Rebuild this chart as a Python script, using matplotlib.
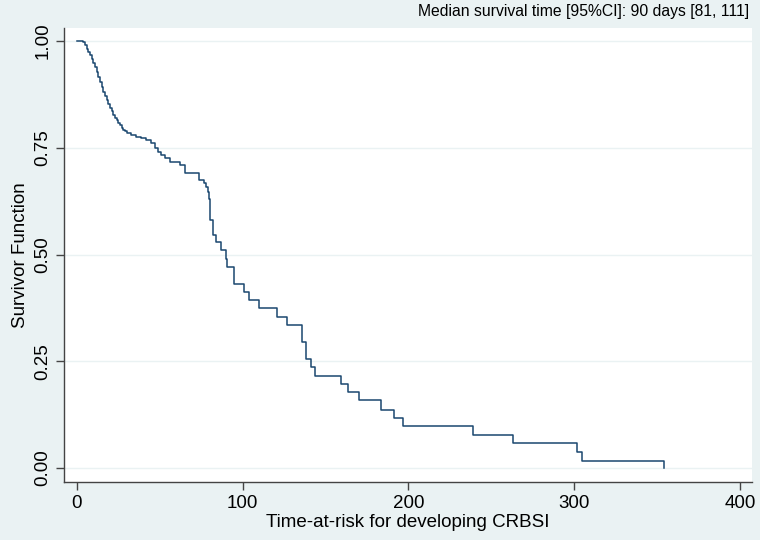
import matplotlib
matplotlib.use("Agg")
import matplotlib.pyplot as plt

# Kaplan-Meier estimate (time in days, survivor function)
km_time = [0, 4, 5, 6, 7, 8, 9, 10, 11, 12, 13, 14, 15, 16, 17, 18, 19, 20,
           21, 22, 23, 24, 25, 26, 27, 28, 29, 30, 33, 36, 39, 42, 45, 47,
           49, 51, 53, 56, 62, 65, 74, 77, 78, 79, 80, 80.5, 82, 84, 87, 90,
           90.5, 95, 101, 104, 110, 121, 127, 136, 138, 141, 143.5, 159.5,
           163.5, 170.5, 183.5, 191.5, 196.5, 239, 263, 301.5, 304.5, 354]
km_surv = [1.0, 0.997, 0.99, 0.982, 0.974, 0.966, 0.958, 0.949, 0.94, 0.928,
           0.916, 0.904, 0.892, 0.88, 0.871, 0.862, 0.853, 0.844, 0.835,
           0.827, 0.82, 0.814, 0.808, 0.802, 0.797, 0.792, 0.788, 0.784,
           0.779, 0.775, 0.772, 0.768, 0.76, 0.749, 0.741, 0.733, 0.725,
           0.717, 0.71, 0.69, 0.674, 0.667, 0.657, 0.647, 0.63, 0.58, 0.546,
           0.53, 0.51, 0.49, 0.471, 0.432, 0.413, 0.393, 0.374, 0.354, 0.335,
           0.296, 0.255, 0.236, 0.215, 0.197, 0.179, 0.16, 0.137, 0.118,
           0.098, 0.077, 0.058, 0.038, 0.017, 0.0]

x_ticks = [0, 100, 200, 300, 400]
y_ticks = [0.0, 0.25, 0.5, 0.75, 1.0]
y_tick_labels = ["0.00", "0.25", "0.50", "0.75", "1.00"]
note = "Median survival time [95%CI]: 90 days [81, 111]"

plt.rcParams["font.family"] = ["Liberation Sans", "DejaVu Sans"]

bg = "#EAF2F3"
fig = plt.figure(figsize=(7.6, 5.4), dpi=100, facecolor=bg)
ax = fig.add_axes([0.084, 0.107, 0.905, 0.841])
ax.set_facecolor("white")

ax.step(km_time, km_surv, where="post", color="#1A476F", lw=1.1)

ax.set_xlim(-7.8, 407)
ax.set_ylim(-0.033, 1.030)

ax.set_xticks(x_ticks)
ax.set_yticks(y_ticks)
ax.set_yticklabels(y_tick_labels, rotation=90, va="center")
ax.tick_params(axis="both", direction="out", length=6, width=1,
               color="#444444", labelsize=13.5, pad=3)

ax.grid(axis="y", color="#EAF2F3", lw=1)
ax.set_axisbelow(True)

for side in ["top", "right"]:
    ax.spines[side].set_visible(False)
for side in ["left", "bottom"]:
    ax.spines[side].set_color("#444444")
    ax.spines[side].set_linewidth(1)

ax.set_xlabel("Time-at-risk for developing CRBSI", fontsize=13.5, labelpad=2)
ax.set_ylabel("Survivor Function", fontsize=13.5, labelpad=4)

fig.text(0.986, 0.978, note, ha="right", va="center", fontsize=11.3)

fig.savefig("out.png", dpi=100, facecolor=bg)
